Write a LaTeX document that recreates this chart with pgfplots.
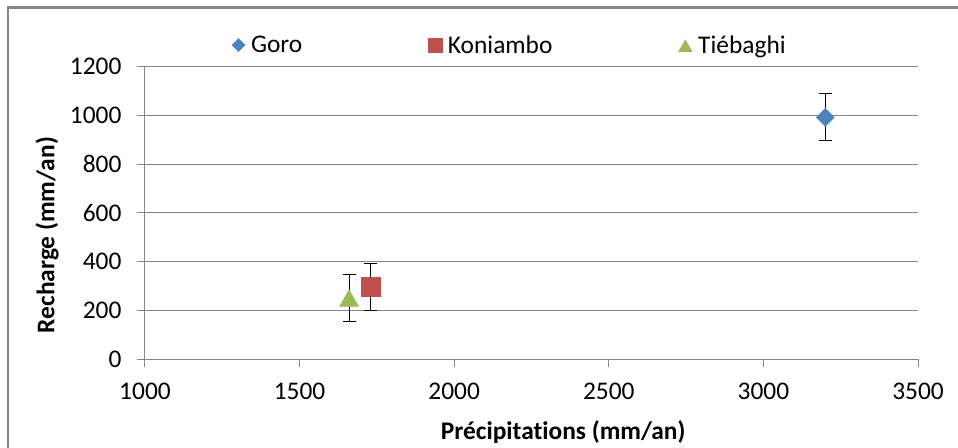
\documentclass[border=0pt]{standalone}
\usepackage{fontspec}
\setmainfont[Ligatures=CommonOff]{Carlito}
\usepackage{pgfplots}
\pgfplotsset{compat=1.18}

\definecolor{goro}{HTML}{4F81BD}
\definecolor{koni}{HTML}{C0504D}
\definecolor{tieb}{HTML}{9BBB59}
\definecolor{gridgray}{HTML}{868686}

\pgfplotsset{
  smallleg/.style={legend image code/.code={%
    \draw[##1,/tikz/every mark/.append style={scale=0.72}] plot coordinates {(0.2cm,0cm)};}},
  errs/.style={forget plot, only marks, mark=none,
    error bars/.cd, y dir=both, y explicit,
    error bar style={black, line width=1bp},
    error mark options={black, line width=1bp, mark size=6.5bp, rotate=90}},
}

\begin{document}
\begin{tikzpicture}
\useasboundingbox (-145bp,-89bp) rectangle (813bp,359bp);
\draw[gridgray, line width=2.2bp] (-137bp,-89bp) -- (-137bp,351.5bp) -- (813bp,351.5bp);
\begin{axis}[
  scale only axis,
  width=773bp, height=292.3bp,
  xmin=1000, xmax=3500, ymin=0, ymax=1200,
  xtick={1000,1500,...,3500},
  ytick={0,200,...,1200},
  axis x line*=bottom, axis y line*=left,
  axis line style={gridgray, line width=1bp, -},
  tick align=outside, major tick length=8bp,
  tick style={gridgray, line width=1bp},
  ymajorgrids, grid style={gridgray, line width=1bp},
  ticklabel style={font=\fontsize{25.5}{30}\selectfont},
  xticklabel style={yshift=-12bp},
  yticklabel style={xshift=-12bp},
  /pgf/number format/assume math mode=true,
  /pgf/number format/set thousands separator={},
  label style={font=\bfseries\fontsize{25.5}{30}\selectfont},
  xlabel={Précipitations (mm/an)},
  ylabel={Recharge (mm/an)},
  xlabel style={at={(rel axis cs:0.541,-0.2737)}, anchor=base},
  ylabel style={at={(rel axis cs:-0.1268,0.424)}, anchor=center},
  legend columns=3,
  legend style={draw=none, fill=none, at={(rel axis cs:0.472,1.074)}, anchor=center,
    font=\fontsize{25.5}{30}\selectfont,
    /tikz/every odd column/.append style={column sep=4bp},
    /tikz/every even column/.append style={column sep=124bp}},
]
% error bars first, so the markers sit on top
\addplot[errs] coordinates {(3200,992) +- (0,96)};
\addplot[errs] coordinates {(1730,295) +- (0,96)};
\addplot[errs] coordinates {(1660,250) +- (0,97)};

\addplot+[only marks, smallleg, mark=square*, mark size=6.4bp,
  mark options={rotate=45, fill=goro, draw=goro}]
  coordinates {(3200,992)};
\addlegendentry{Goro}
\addplot+[only marks, smallleg, mark=square*, mark size=9.5bp,
  mark options={fill=koni, draw=koni}]
  coordinates {(1730,295)};
\addlegendentry{Koniambo}
\addplot+[only marks, smallleg, mark=triangle*, mark size=11bp,
  mark options={fill=tieb, draw=tieb, yshift=-2.75bp}]
  coordinates {(1660,250)};
\addlegendentry{Tiébaghi}
\end{axis}
\end{tikzpicture}
\end{document}
